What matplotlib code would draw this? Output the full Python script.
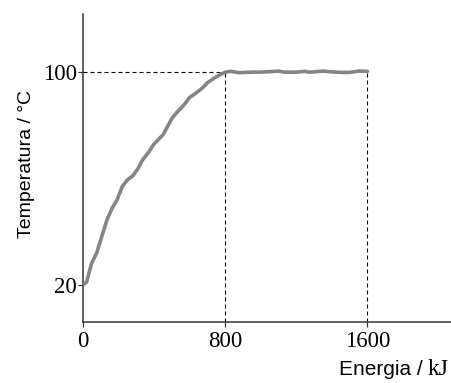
import matplotlib
matplotlib.use('Agg')
import matplotlib.pyplot as plt

energia = [0, 20, 48, 77, 105, 135, 165, 192, 221, 250, 280, 307, 335, 365, 400, 451,
           499, 530, 566, 600, 633, 671, 700, 739, 770, 800, 830, 880, 950, 1000, 1060,
           1100, 1130, 1200, 1250, 1270, 1300, 1350, 1400, 1450, 1500, 1550, 1600]
temperatura = [20, 21, 28, 32, 38, 44.5, 49, 52, 57, 59.5, 61, 63.5, 67, 69.5, 73, 76.5,
               82.5, 85, 87.5, 90.5, 92, 94, 96, 97.8, 99, 100, 100.3, 99.8, 100, 100, 100.2,
               100.4, 100, 100, 100.3, 100, 100.1, 100.4, 100.1, 99.9, 99.9, 100.4, 100.3]
xticks = [0, 800, 1600]
yticks = [20, 100]

fig = plt.figure(figsize=(4.51, 3.83), dpi=100)
ax = fig.add_axes([0.184, 0.159, 0.816, 0.804])

ymin = 6
ax.plot([0, 800], [100, 100], color='black', lw=0.8, linestyle=(0, (3.6, 2.7)))
ax.plot([800, 800], [ymin, 100], color='black', lw=0.8, linestyle=(0, (3.6, 2.7)))
ax.plot([1600, 1600], [ymin, 100], color='black', lw=0.8, linestyle=(0, (3.6, 2.7)))
ax.plot(energia, temperatura, color='#858585', lw=2.6, solid_capstyle='round', zorder=3)

ax.set_xlim(0, 2070)
ax.set_ylim(ymin, 121.8)
ax.set_xticks(xticks)
ax.set_yticks(yticks)
ax.set_xticklabels([str(t) for t in xticks], family='Liberation Serif', fontsize=16.5)
ax.set_yticklabels([str(t) for t in yticks], family='Liberation Serif', fontsize=16.5)
ax.tick_params(axis='x', direction='out', length=3.6, width=0.9, color='#333333', pad=3)
ax.tick_params(axis='y', direction='out', length=3.6, width=0.9, color='#333333', pad=1)

for s in ['top', 'right']:
    ax.spines[s].set_visible(False)
for s in ['left', 'bottom']:
    ax.spines[s].set_color('#333333')
    ax.spines[s].set_linewidth(1.1)

fig.text(27 / 451, 1 - 164 / 383, 'Temperatura / °C', rotation=90, ha='center', va='center',
         family='Liberation Sans', fontsize=14)

# x label: sans text with serif unit
yl = 1 - 375 / 383
kj = fig.text(449 / 451, yl, 'kJ', ha='right', va='baseline',
              family='Liberation Serif', fontsize=17)
fig.canvas.draw()
x0 = kj.get_window_extent().x0 / fig.bbox.width
fig.text(x0, yl, 'Energia / ', ha='right', va='baseline',
         family='Liberation Sans', fontsize=15)

fig.savefig('out.png', dpi=100)
